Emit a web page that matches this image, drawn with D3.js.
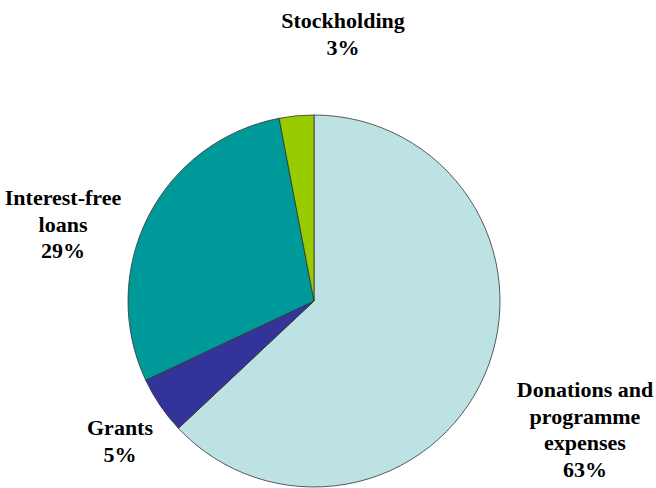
<!DOCTYPE html>
<html>
<head>
<meta charset="utf-8">
<script src="https://cdn.jsdelivr.net/npm/d3@7"></script>
</head>
<body style="margin:0">
<svg width="656" height="488"></svg>
<script>
var categories = ["Donations and programme expenses", "Grants", "Interest-free loans", "Stockholding"];
var values = [63, 5, 29, 3];
var colors = ["#bde2e4", "#333399", "#009999", "#99cc00"];
var labelLines = [
  ["Donations and", "programme", "expenses", "63%"],
  ["Grants", "5%"],
  ["Interest-free", "loans", "29%"],
  ["Stockholding", "3%"]
];

var svg = d3.select("svg");
var cx = 314, cy = 301, radius = 186;
var fontSize = 22, lineHeight = 26.5;

var pie = d3.pie().sort(null).value((d) => d.value);
var arc = d3.arc().innerRadius(0).outerRadius(radius);

var data = categories.map((c, i) => ({ name: c, value: values[i], color: colors[i], lines: labelLines[i] }));

var g = svg.append("g").attr("transform", `translate(${cx}, ${cy})`);

g.selectAll("path.slice")
  .data(pie(data))
  .enter()
  .append("path")
  .attr("class", "slice")
  .attr("d", arc)
  .attr("fill", (d) => d.data.color)
  .attr("stroke", "#333")
  .attr("stroke-width", 0.8);

// label centre x and first baseline
var labelPos = [
  { x: 585, y: 397 },
  { x: 120, y: 435 },
  { x: 63, y: 205 },
  { x: 343, y: 28 }
];

// left-anchored text, centred by measuring its width
data.forEach((d, i) => {
  d.lines.forEach((line, j) => {
    var t = svg.append("text")
      .attr("x", 0)
      .attr("y", labelPos[i].y + j * lineHeight)
      .attr("font-family", "Liberation Serif")
      .attr("font-size", fontSize)
      .attr("font-weight", "bold")
      .text(line);
    var w = t.node().getComputedTextLength();
    t.attr("x", labelPos[i].x - w / 2);
  });
});
</script>
</body>
</html>
